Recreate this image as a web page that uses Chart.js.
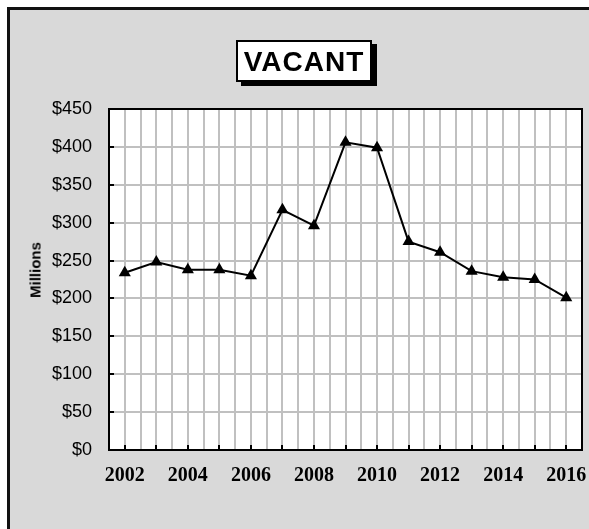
<!DOCTYPE html>
<html>
<head>
<meta charset="utf-8">
<script src="https://cdn.jsdelivr.net/npm/chart.js@4"></script>
<style>
    html, body { margin: 0; padding: 0; background: #fff; }
    #frame {
        position: absolute; left: 7px; top: 7px; width: 600px; height: 540px;
        background: #d9d9d9; border-left: 3px solid #111; border-top: 3px solid #111;
    }
    #wrap { position: absolute; left: 0; top: 0; width: 589px; height: 529px; }
    #title {
        position: absolute; left: 236px; top: 40px; width: 132px; height: 38px;
        background: #fff; border: 2px solid #000; box-shadow: 5px 4px 0 #000;
        font: bold 28px Arial, "Liberation Sans", sans-serif; letter-spacing: 1px; color: #000;
        text-align: center; line-height: 39px;
    }
    #yTitle {
        position: absolute; left: 35px; top: 270px; width: 0; height: 0;
    }
    #yTitle span {
        position: absolute; left: 0; top: 0; white-space: nowrap;
        transform: translate(-50%, -50%) rotate(-90deg);
        font: bold 15px Arial, "Liberation Sans", sans-serif; color: #000;
    }
</style>
</head>
<body>
<div id="frame"></div>
<div id="wrap"><canvas id="vacantChart" width="589" height="529"></canvas></div>
<div id="title">VACANT</div>
<div id="yTitle"><span>Millions</span></div>
<script>
const years = [2002, 2003, 2004, 2005, 2006, 2007, 2008, 2009, 2010, 2011, 2012, 2013, 2014, 2015, 2016]
const vacantValues = [234, 248, 238, 238, 230, 317, 296, 406, 399, 275, 261, 236, 228, 225, 201]
const yTicks = [0, 50, 100, 150, 200, 250, 300, 350, 400, 450]

const ctx = document.getElementById("vacantChart").getContext("2d")

// white plot area, black frame, short inward tick marks
const plotFrame = {
    id: 'plotFrame',
    beforeDraw(chart) {
        const { ctx, chartArea: a } = chart
        ctx.save()
        ctx.fillStyle = '#fff'
        ctx.fillRect(a.left, a.top, a.right - a.left, a.bottom - a.top)
        ctx.restore()
    },
    beforeDatasetsDraw(chart) {
        const { ctx, chartArea: a, scales } = chart
        ctx.save()
        ctx.strokeStyle = '#000'
        ctx.lineWidth = 2
        ctx.strokeRect(a.left, a.top, a.right - a.left, a.bottom - a.top)
        ctx.beginPath()
        yTicks.forEach(v => {
            const y = Math.round(scales.y.getPixelForValue(v))
            ctx.moveTo(a.left, y)
            ctx.lineTo(a.left + 5, y)
        })
        years.forEach(yr => {
            const x = Math.round(scales.x.getPixelForValue(yr))
            ctx.moveTo(x, a.bottom)
            ctx.lineTo(x, a.bottom - 5)
        })
        ctx.stroke()
        ctx.restore()
    }
}

const chart = new Chart(ctx, {
    type: 'line',
    data: {
        datasets: [{
            label: 'Vacant',
            data: years.map((yr, i) => ({ x: yr, y: vacantValues[i] })),
            borderColor: '#000',
            borderWidth: 2,
            pointStyle: 'triangle',
            pointRadius: 7,
            pointBackgroundColor: '#000',
            pointBorderColor: '#000',
            pointBorderWidth: 0,
            tension: 0
        }]
    },
    options: {
        responsive: false,
        animation: false,
        layout: { padding: { left: 0, top: 109, right: 6, bottom: 39 } },
        plugins: {
            legend: { display: false },
            tooltip: { enabled: false }
        },
        scales: {
            x: {
                type: 'linear',
                min: 2001.5,
                max: 2016.5,
                afterFit: s => {
                    s.height = 40
                    s.paddingLeft = 0
                    s.paddingRight = 0
                },
                grid: { color: '#c0c0c0', lineWidth: 2, drawTicks: false },
                border: { display: false },
                ticks: {
                    stepSize: 0.5,
                    autoSkip: false,
                    maxRotation: 0,
                    padding: 14,
                    color: '#000',
                    font: { family: '"Liberation Serif", "Times New Roman", serif', size: 20, weight: 'bold' },
                    callback: v => (Number.isInteger(v) && v % 2 === 0) ? String(v) : ''
                }
            },
            y: {
                min: 0,
                max: 450,
                afterFit: s => { s.width = 109 },
                grid: { color: '#c0c0c0', lineWidth: 2, drawTicks: false },
                border: { display: false },
                ticks: {
                    stepSize: 50,
                    padding: 17,
                    color: '#000',
                    font: { family: 'Arial, "Liberation Sans", sans-serif', size: 18 },
                    callback: v => '$' + v
                }
            }
        }
    },
    plugins: [plotFrame]
})
</script>
</body>
</html>
